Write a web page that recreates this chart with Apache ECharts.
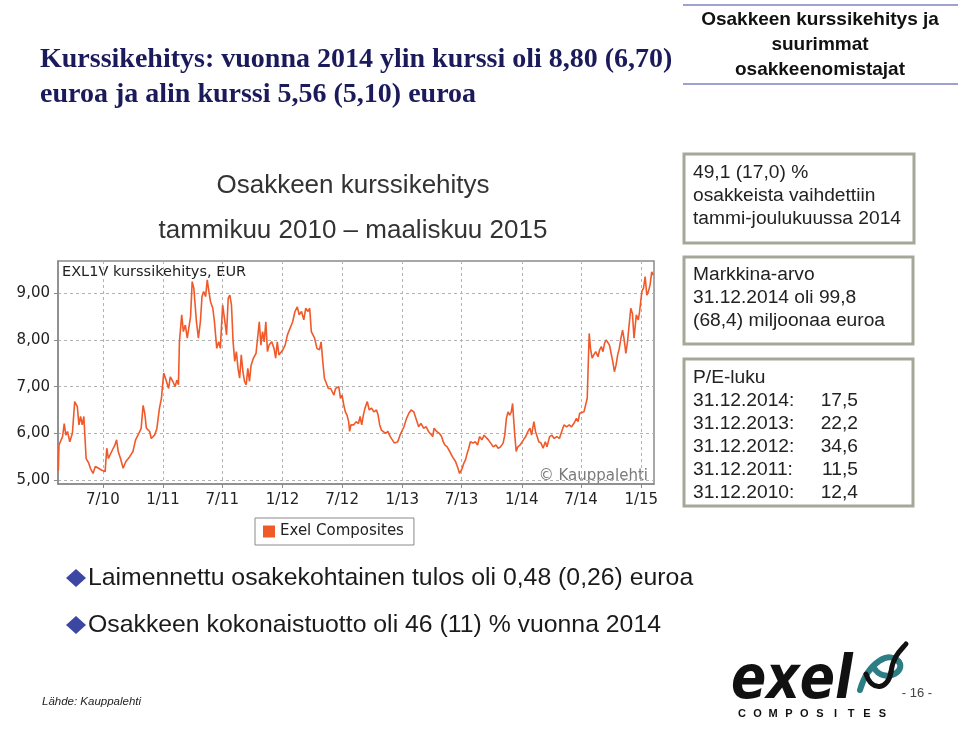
<!DOCTYPE html>
<html>
<head>
<meta charset="utf-8">
<script src="https://cdn.jsdelivr.net/npm/echarts@6/dist/echarts.min.js"></script>
<style>
html,body{margin:0;padding:0;background:#fff;}
#chart{width:960px;height:739px;}
</style>
</head>
<body>
<div id="chart"></div>
<script>
// ---- Data ----
const priceDates = [
'2010-02-15','2010-02-17','2010-02-23','2010-02-28','2010-03-05','2010-03-10','2010-03-15','2010-03-22','2010-03-30',
'2010-04-06','2010-04-14','2010-04-19','2010-04-24','2010-04-29','2010-05-04','2010-05-07','2010-05-11','2010-05-19',
'2010-05-24','2010-06-01','2010-06-08','2010-06-18','2010-06-28','2010-07-08','2010-07-13','2010-07-18','2010-07-28',
'2010-08-07','2010-08-12','2010-08-17','2010-08-24','2010-09-01','2010-09-09','2010-09-21','2010-10-01','2010-10-09',
'2010-10-19','2010-10-26','2010-11-01','2010-11-06','2010-11-11','2010-11-21','2010-11-26','2010-12-06','2010-12-13',
'2010-12-21','2010-12-27',
'2011-01-03','2011-01-10','2011-01-18','2011-01-23','2011-01-31','2011-02-07','2011-02-12','2011-02-17','2011-02-20',
'2011-02-27','2011-03-04','2011-03-10','2011-03-16','2011-03-22','2011-03-26','2011-03-31','2011-04-05','2011-04-09',
'2011-04-13','2011-04-19','2011-04-25','2011-04-30','2011-05-05','2011-05-11','2011-05-16','2011-05-21','2011-05-26',
'2011-06-02','2011-06-07','2011-06-14','2011-06-20','2011-06-25','2011-07-02','2011-07-09','2011-07-14','2011-07-19',
'2011-07-24','2011-07-29','2011-08-03','2011-08-08','2011-08-13','2011-08-18','2011-08-23','2011-08-28','2011-09-02',
'2011-09-07','2011-09-12','2011-09-17','2011-09-22','2011-09-27','2011-10-04','2011-10-12','2011-10-17','2011-10-22',
'2011-10-27','2011-11-01','2011-11-06','2011-11-11','2011-11-16','2011-11-21','2011-11-29','2011-12-06','2011-12-11',
'2011-12-16','2011-12-21',
'2012-01-02','2012-01-09','2012-01-16','2012-01-24','2012-02-01','2012-02-08','2012-02-15','2012-02-21','2012-02-28',
'2012-03-06','2012-03-12','2012-03-19','2012-03-24','2012-03-29','2012-04-08','2012-04-15','2012-04-23','2012-04-28',
'2012-05-03','2012-05-08','2012-05-20','2012-05-27','2012-06-01','2012-06-06','2012-06-11','2012-06-16','2012-06-21',
'2012-06-26','2012-07-01','2012-07-06','2012-07-11','2012-07-16','2012-07-21','2012-07-24','2012-07-28','2012-08-05',
'2012-08-13','2012-08-20','2012-08-25','2012-08-30','2012-09-04','2012-09-09','2012-09-16','2012-09-22','2012-09-29',
'2012-10-06','2012-10-14','2012-10-19','2012-10-24','2012-10-29','2012-11-03','2012-11-11','2012-11-18','2012-11-25',
'2012-12-01','2012-12-08','2012-12-13','2012-12-18','2012-12-25',
'2013-01-06','2013-01-14','2013-01-21','2013-01-28','2013-02-05','2013-02-10','2013-02-15','2013-02-20','2013-02-27',
'2013-03-07','2013-03-15','2013-03-22','2013-03-27','2013-04-04','2013-04-08','2013-04-16','2013-04-24','2013-05-01',
'2013-05-06','2013-05-11','2013-05-18','2013-05-26','2013-06-03','2013-06-08','2013-06-13','2013-06-20','2013-06-25',
'2013-07-03','2013-07-08','2013-07-13','2013-07-18','2013-07-23','2013-07-28','2013-08-05','2013-08-12','2013-08-19',
'2013-08-25','2013-09-01','2013-09-08','2013-09-14','2013-09-21','2013-09-28','2013-10-06','2013-10-14','2013-10-21',
'2013-10-28','2013-11-05','2013-11-10','2013-11-15','2013-11-20','2013-11-25','2013-11-30','2013-12-04','2013-12-07',
'2013-12-11','2013-12-15','2013-12-20','2013-12-27',
'2014-01-06','2014-01-13','2014-01-20','2014-01-26','2014-01-31','2014-02-07','2014-02-12','2014-02-17','2014-02-22',
'2014-03-01','2014-03-07','2014-03-14','2014-03-19','2014-03-27','2014-04-03','2014-04-10','2014-04-18','2014-04-26',
'2014-05-03','2014-05-10','2014-05-18','2014-05-26','2014-06-02','2014-06-09','2014-06-17','2014-06-22','2014-06-27',
'2014-07-03','2014-07-10','2014-07-16','2014-07-20','2014-07-23','2014-07-26','2014-07-30','2014-08-04','2014-08-09',
'2014-08-15','2014-08-22','2014-08-27','2014-09-01','2014-09-06','2014-09-11','2014-09-16','2014-09-21','2014-09-26',
'2014-10-01','2014-10-06','2014-10-11','2014-10-16','2014-10-21','2014-10-26','2014-10-31','2014-11-05','2014-11-10',
'2014-11-15','2014-11-20','2014-11-25','2014-11-30','2014-12-05','2014-12-10','2014-12-13','2014-12-17','2014-12-23',
'2014-12-27',
'2015-01-03','2015-01-08','2015-01-13','2015-01-18','2015-01-23','2015-01-28','2015-02-02','2015-02-07'
];
const priceValues = [
5.20,5.75,5.79,5.93,6.21,5.96,6.04,5.82,6.00,
6.68,6.57,6.18,6.36,6.18,6.36,5.96,5.46,5.36,
5.25,5.14,5.29,5.25,5.21,5.18,5.68,5.46,5.61,
5.75,5.86,5.61,5.46,5.25,5.39,5.50,5.61,5.86,
6.00,6.10,6.60,6.43,6.11,6.04,5.89,5.96,6.10,
6.54,6.75,
7.29,7.14,6.96,7.21,7.11,7.00,7.14,7.04,7.96,
8.54,8.18,8.32,8.04,8.32,8.50,9.25,9.11,8.75,
8.39,8.04,8.39,8.93,9.04,8.93,9.29,9.04,8.82,
8.68,8.39,7.82,7.96,7.82,8.75,8.39,8.11,8.89,
8.96,8.75,7.96,7.54,7.75,7.39,7.18,7.68,7.32,
7.11,7.04,7.39,7.11,7.46,7.61,7.71,7.68,8.39,
7.89,8.18,7.96,8.39,7.75,7.89,7.96,7.82,7.61,
7.96,7.68,
7.79,7.89,8.11,8.25,8.39,8.61,8.71,8.54,8.61,
8.43,8.68,8.61,8.68,8.18,8.04,7.82,7.79,7.96,
7.54,7.18,6.96,6.96,7.00,6.82,6.96,6.93,7.00,
6.75,6.82,6.61,6.46,6.39,6.25,6.04,6.18,6.18,
6.25,6.21,6.36,6.18,6.39,6.54,6.68,6.50,6.54,
6.46,6.50,6.39,6.18,6.07,6.11,6.00,6.04,5.93,
5.89,5.79,5.76,5.82,5.96,
6.14,6.32,6.43,6.50,6.46,6.50,6.25,6.14,6.21,
6.11,6.14,6.04,6.04,5.93,6.11,6.04,6.00,5.93,
5.82,5.75,5.71,5.61,5.50,5.54,5.39,5.25,5.14,
5.25,5.36,5.43,5.57,5.68,5.82,5.79,5.82,5.75,
5.93,5.86,5.96,5.93,5.86,5.79,5.71,5.75,5.68,
5.71,5.79,5.96,6.32,6.46,6.39,6.46,6.64,6.32,
5.93,5.61,5.71,5.75,
5.86,5.93,6.04,6.11,5.96,6.25,6.04,5.93,5.82,
5.79,5.68,5.82,5.71,5.93,5.96,5.89,5.93,5.89,
6.04,6.18,6.14,6.18,6.14,6.21,6.32,6.25,6.43,
6.39,6.46,6.43,6.75,7.46,8.14,7.82,7.61,7.68,
7.75,7.64,7.79,7.86,7.75,7.93,8.00,7.96,7.89,
7.71,7.54,7.32,7.46,7.68,7.82,8.04,8.21,8.00,
7.71,7.96,7.93,8.68,8.57,8.04,8.00,8.54,8.43,
8.61,
9.04,9.11,9.36,8.96,9.04,9.18,9.46,9.39
];
const seriesName = 'Exel Composites';
const yTickValues = [5, 6, 7, 8, 9];
const xTickDates = ['2010-07-01','2011-01-01','2011-07-01','2012-01-01','2012-07-01','2013-01-01','2013-07-01','2014-01-01','2014-07-01','2015-01-01'];
const xTickLabels = ['7/10','1/11','7/11','1/12','7/12','1/13','7/13','1/14','7/14','1/15'];
const xMin = '2010-02-14', xMax = '2015-02-09';
const yMin = 4.914, yMax = 9.692;

const titleLines = ['Kurssikehitys: vuonna 2014 ylin kurssi oli 8,80 (6,70)', 'euroa ja alin kurssi 5,56 (5,10) euroa'];
const headerLines = ['Osakkeen kurssikehitys ja', 'suurimmat', 'osakkeenomistajat'];
const subtitleLines = ['Osakkeen kurssikehitys', 'tammikuu 2010 \u2013 maaliskuu 2015'];
const box1Lines = ['49,1 (17,0) %', 'osakkeista vaihdettiin', 'tammi-joulukuussa 2014'];
const box2Lines = ['Markkina-arvo', '31.12.2014 oli 99,8', '(68,4) miljoonaa euroa'];
const peTitle = 'P/E-luku';
const peDates = ['31.12.2014:', '31.12.2013:', '31.12.2012:', '31.12.2011:', '31.12.2010:'];
const peValues = ['17,5', '22,2', '34,6', '11,5', '12,4'];
const bulletLines = ['Laimennettu osakekohtainen tulos oli 0,48 (0,26) euroa', 'Osakkeen kokonaistuotto oli 46 (11) % vuonna 2014'];

// ---- Build ----
const chart = echarts.init(document.getElementById('chart'), null, {renderer: 'canvas'});
const toTime = d => echarts.number.parseDate(d).getTime();
const tickTimes = xTickDates.map(toTime);
const seriesData = priceDates.map((d, i) => [toTime(d), priceValues[i]]);
const gridColor = '#b3b3b3';
const frameColor = '#8a8a8a';

function txt(text, x, y, font, fill, align, extra) {
  return Object.assign({
    type: 'text', silent: true,
    style: {text: text, x: x, y: y, font: font, fill: fill, textAlign: align || 'left', textVerticalAlign: 'middle'}
  }, extra || {});
}
function curve(p, color, w) {
  return {type: 'bezierCurve', silent: true,
    shape: {x1: p[0], y1: p[1], cpx1: p[2], cpy1: p[3], cpx2: p[4], cpy2: p[5], x2: p[6], y2: p[7]},
    style: {fill: 'none', stroke: color, lineWidth: w, lineCap: 'round'}};
}

const graphics = [];
titleLines.forEach((t, i) => graphics.push(txt(t, 40, 60 + i * 35, 'bold 28px "Liberation Serif"', '#1b1b5c')));
graphics.push({type: 'line', silent: true, shape: {x1: 683, y1: 5, x2: 958, y2: 5}, style: {stroke: '#9ea2cf', lineWidth: 2}});
graphics.push({type: 'line', silent: true, shape: {x1: 683, y1: 84, x2: 958, y2: 84}, style: {stroke: '#9ea2cf', lineWidth: 2}});
headerLines.forEach((t, i) => graphics.push(txt(t, 820, 20 + i * 25, 'bold 19px "Liberation Sans"', '#111', 'center')));
subtitleLines.forEach((t, i) => graphics.push(txt(t, 353, 186 + i * 45, '26px "Liberation Sans"', '#333', 'center')));
const boxStyle = {fill: 'none', stroke: '#a5a898', lineWidth: 3};
graphics.push({type: 'rect', silent: true, shape: {x: 684, y: 154, width: 230, height: 89}, style: boxStyle});
graphics.push({type: 'rect', silent: true, shape: {x: 684, y: 257, width: 229, height: 87}, style: boxStyle});
graphics.push({type: 'rect', silent: true, shape: {x: 684, y: 359, width: 229, height: 147}, style: boxStyle});
const boxFont = '19.2px "Liberation Sans"';
box1Lines.forEach((t, i) => graphics.push(txt(t, 693, 173 + i * 23, boxFont, '#222')));
box2Lines.forEach((t, i) => graphics.push(txt(t, 693, 275 + i * 23, boxFont, '#222')));
graphics.push(txt(peTitle, 693, 378, boxFont, '#222'));
peDates.forEach((t, i) => {
  graphics.push(txt(t, 693, 401 + i * 23, boxFont, '#222'));
  graphics.push(txt(peValues[i], 858, 401 + i * 23, boxFont, '#222', 'right'));
});
bulletLines.forEach((t, i) => {
  const cy = 578 + i * 47;
  graphics.push({type: 'polygon', silent: true, shape: {points: [[76, cy - 9], [86, cy], [76, cy + 9], [66, cy]]}, style: {fill: '#3b47a3'}});
  graphics.push(txt(t, 88, cy, '24.8px "Liberation Sans"', '#1a1a1a'));
});
graphics.push(txt('Lähde: Kauppalehti', 42, 702, 'italic 11.5px "Liberation Sans"', '#222'));
graphics.push(txt('- 16 -', 917, 693, '13px "Liberation Sans"', '#444', 'center'));
graphics.push({type: 'text', silent: true, x: 731, y: 712, scaleY: 1.2, scaleX: 1.04,
  style: {text: 'exel', x: 0, y: 0, font: 'italic bold 50px "DejaVu Sans"', fill: '#111', textAlign: 'left', textVerticalAlign: 'bottom'}});
'COMPOSITES'.split('').forEach((ch, i) => graphics.push(txt(ch, 742 + i * 15.6, 714, 'bold 11px "Liberation Sans"', '#111', 'center')));
graphics.push(curve([860, 690, 868, 662, 890, 650, 899, 662], '#2d7d86', 6));
graphics.push(curve([899, 662, 906, 672, 884, 684, 874, 668], '#2d7d86', 6));
graphics.push(curve([866, 674, 872, 692, 888, 690, 891, 672], '#111', 5));
graphics.push(curve([891, 672, 893, 656, 901, 650, 906, 644], '#111', 5));
graphics.push(txt('EXL1V kurssikehitys, EUR', 62, 272, '14.5px "DejaVu Sans"', '#222'));
graphics.push(txt('\u00a9 Kauppalehti', 648, 476, '15px "DejaVu Sans"', '#7a7a7a', 'right'));

const option = {
  backgroundColor: '#ffffff',
  animation: false,
  grid: {left: 58, top: 261, right: 306, bottom: 255, show: true, borderColor: frameColor, borderWidth: 1.5, backgroundColor: 'transparent'},
  legend: {
    data: [seriesName], left: 255, top: 518, icon: 'rect', itemWidth: 12, itemHeight: 12,
    borderColor: frameColor, borderWidth: 1, padding: [6, 10, 6, 8], selectedMode: false,
    textStyle: {fontFamily: 'DejaVu Sans', fontSize: 15, color: '#222'}
  },
  xAxis: {
    type: 'value', min: toTime(xMin), max: toTime(xMax),
    axisLine: {show: true, lineStyle: {color: frameColor, width: 1.5}},
    axisTick: {show: true, customValues: tickTimes, length: 4, lineStyle: {color: frameColor}},
    axisLabel: {
      customValues: tickTimes, fontFamily: 'DejaVu Sans', fontSize: 15, color: '#222', margin: 9,
      formatter: function (v) {
        let best = 0;
        tickTimes.forEach((t, i) => { if (Math.abs(t - v) < Math.abs(tickTimes[best] - v)) best = i; });
        return xTickLabels[best];
      }
    },
    splitLine: {show: true, customValues: tickTimes, lineStyle: {type: [3, 3], color: gridColor, width: 1}}
  },
  yAxis: {
    type: 'value', min: yMin, max: yMax,
    axisLine: {show: true, lineStyle: {color: frameColor, width: 1.5}},
    axisTick: {show: true, customValues: yTickValues, length: 4, lineStyle: {color: frameColor}},
    axisLabel: {
      customValues: yTickValues, fontFamily: 'DejaVu Sans', fontSize: 15, color: '#222', margin: 8,
      formatter: v => v.toFixed(2).replace('.', ',')
    },
    splitLine: {show: true, customValues: yTickValues, lineStyle: {type: [3, 3], color: gridColor, width: 1}}
  },
  series: [{
    name: seriesName, type: 'line', data: seriesData, showSymbol: false, symbol: 'none',
    lineStyle: {color: '#f05a2a', width: 1.6}, itemStyle: {color: '#f05a2a'}
  }],
  graphic: graphics
};
chart.setOption(option);
</script>
</body>
</html>
